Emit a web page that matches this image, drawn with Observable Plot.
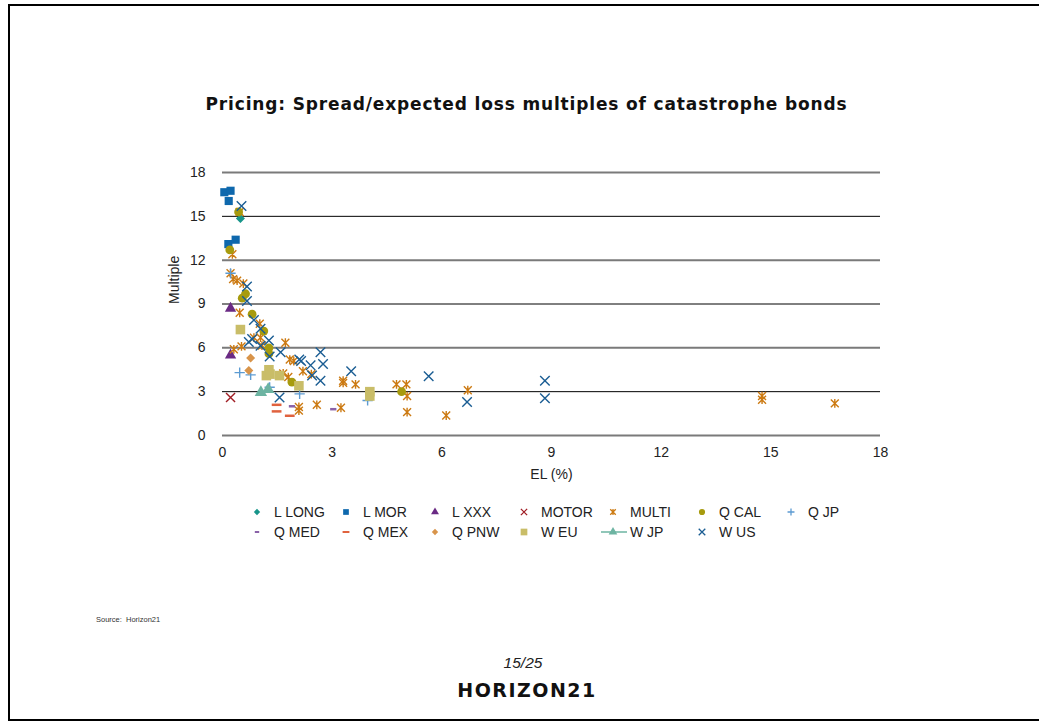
<!DOCTYPE html>
<html>
<head>
<meta charset="utf-8">
<script src="https://cdn.jsdelivr.net/npm/d3@7"></script>
<script src="https://cdn.jsdelivr.net/npm/@observablehq/plot@0.6"></script>
<style>
  html, body { margin: 0; padding: 0; background: #fff; }
  body { width: 1039px; height: 722px; position: relative; overflow: hidden; font-family: "Liberation Sans", Arial, sans-serif; }
  #frame { position: absolute; left: 8px; top: 4px; width: 1036px; height: 717px; border: 2px solid #000; box-sizing: border-box; }
  #title { position: absolute; left: 0; width: 1053px; top: 94px; text-align: center; font-family: "DejaVu Sans", sans-serif; font-weight: bold; font-size: 17px; letter-spacing: 0.85px; color: #111; }
  #chart { position: absolute; left: 0; top: 150px; }
  .leg { position: absolute; font-size: 14px; color: #222; white-space: nowrap; height: 18px; line-height: 18px; }
  .leg svg { position: absolute; top: 0; }
  #source { position: absolute; left: 96px; top: 615px; font-size: 7.5px; color: #333; }
  #page { position: absolute; left: 0; width: 1046px; top: 654px; text-align: center; font-size: 15.5px; font-style: italic; color: #222; }
  #logo { position: absolute; left: 0; width: 1054px; top: 679px; text-align: center; font-family: "DejaVu Sans", sans-serif; font-weight: bold; font-size: 19px; letter-spacing: 1.5px; color: #111; }
</style>
</head>
<body>
<div id="frame"></div>
<div id="title">Pricing: Spread/expected loss multiples of catastrophe bonds</div>
<div id="chart"></div>
<div id="legend"></div>
<div id="source">Source:&nbsp; Horizon21</div>
<div id="page">15/25</div>
<div id="logo">HORIZON21</div>
<script>
// ---- data: [EL (%), Multiple] ----
const lLong = [[0.49, 14.85]];
const lMor = [[0.05, 16.65], [0.22, 16.75], [0.17, 16.05], [0.16, 13.1], [0.36, 13.4]];
const lXxx = [[0.22, 8.7], [0.22, 5.5]];
const motor = [[0.22, 2.6]];
const multi = [[0.47, 15.3], [0.27, 12.4], [0.22, 11.1], [0.29, 10.7], [0.4, 10.6], [0.57, 10.4],
  [0.47, 8.4], [1.02, 7.65], [0.86, 6.7], [1.04, 6.7], [1.08, 6.15], [0.31, 5.9], [0.52, 6.1],
  [1.72, 6.35], [1.84, 5.2], [1.95, 5.1], [2.2, 4.4], [2.43, 4.2], [1.66, 4.25], [1.8, 4.0],
  [3.3, 3.75], [3.3, 3.6], [3.64, 3.5], [2.09, 1.95], [2.09, 1.7], [2.58, 2.1], [3.24, 1.9],
  [4.76, 3.5], [5.03, 3.5], [5.05, 2.7], [5.05, 1.6], [6.12, 1.37], [6.71, 3.1],
  [14.76, 2.7], [14.76, 2.45], [16.75, 2.2]];
const qCal = [[0.44, 15.3], [0.2, 12.7], [0.54, 9.4], [0.63, 9.7], [0.81, 8.3], [1.13, 7.15],
  [1.27, 6.0], [1.27, 5.6], [1.9, 3.65], [4.9, 3.0]];
const qJp = [[0.22, 11.1], [0.47, 4.3], [0.77, 4.15], [1.29, 3.3], [2.11, 2.85], [3.97, 2.4]];
const qMed = [[1.9, 2.0], [3.03, 1.8]];
const qMex = [[1.48, 2.1], [1.48, 1.65], [1.84, 1.35]];
const qPnw = [[0.77, 5.3], [0.72, 4.45]];
const wEu = [[0.49, 7.25], [1.2, 4.1], [1.27, 4.5], [1.3, 4.2], [1.56, 4.1], [2.09, 3.4], [4.03, 3.0], [4.03, 2.7]];
const wJp = [[1.05, 2.95], [1.25, 3.15]];
const wUs = [[0.52, 15.7], [0.67, 10.2], [0.67, 9.2], [0.86, 7.9], [1.04, 7.3], [0.72, 6.4], [0.81, 6.6],
  [1.27, 6.5], [1.04, 6.15], [1.29, 5.4], [1.59, 5.7], [2.1, 5.2], [2.15, 5.1], [2.41, 4.8],
  [2.68, 5.7], [2.75, 4.9], [2.45, 4.1], [2.68, 3.75], [1.56, 2.6], [3.52, 4.4], [5.64, 4.05],
  [6.69, 2.3], [8.82, 3.75], [8.82, 2.55]];

const xTicks = [0, 3, 6, 9, 12, 15, 18];
const yTicks = [0, 3, 6, 9, 12, 15, 18];

// ---- custom symbols ----
const diamondSq = { draw(ctx, size) { const r = Math.sqrt(size / 2); ctx.moveTo(0, -r); ctx.lineTo(r, 0); ctx.lineTo(0, r); ctx.lineTo(-r, 0); ctx.closePath(); } };
const squareSym = { draw(ctx, size) { const s = Math.sqrt(size) / 2; ctx.rect(-s, -s, 2 * s, 2 * s); } };
const dashSym = { draw(ctx, size) { const w = Math.sqrt(size) * 0.55; ctx.moveTo(-w, 0); ctx.lineTo(w, 0); } };
const starSym = { draw(ctx, size) { const r = Math.sqrt(size) * 0.62; const d = r * 0.9;
  ctx.moveTo(0, -r); ctx.lineTo(0, r); ctx.moveTo(-d, -d); ctx.lineTo(d, d); ctx.moveTo(-d, d); ctx.lineTo(d, -d); } };

const series = [
  { name: "L LONG", data: lLong, symbol: diamondSq, color: "#17958a", fill: true, r: 3.6 },
  { name: "L MOR", data: lMor, symbol: squareSym, color: "#0e68ad", fill: true, r: 4.6 },
  { name: "L XXX", data: lXxx, symbol: "triangle", color: "#6a2a84", fill: true, r: 4.2 },
  { name: "MOTOR", data: motor, symbol: "times", color: "#a01d24", fill: false, r: 4.2 },
  { name: "MULTI", data: multi, symbol: starSym, color: "#cc7a12", fill: false, r: 4.0 },
  { name: "Q CAL", data: qCal, symbol: "circle", color: "#a79b0e", fill: true, r: 4.4 },
  { name: "Q JP", data: qJp, symbol: "plus", color: "#5c9bd2", fill: false, r: 3.4 },
  { name: "Q MED", data: qMed, symbol: dashSym, color: "#8a62a8", fill: false, r: 3.2, sw: 2.5 },
  { name: "Q MEX", data: qMex, symbol: dashSym, color: "#e0623e", fill: false, r: 5, sw: 2.5 },
  { name: "Q PNW", data: qPnw, symbol: diamondSq, color: "#d8944a", fill: true, r: 3.6 },
  { name: "W EU", data: wEu, symbol: squareSym, color: "#c9bd68", fill: true, r: 5.4 },
  { name: "W JP", data: wJp, symbol: "triangle", color: "#6db4a2", fill: true, r: 4.6, line: true },
  { name: "W US", data: wUs, symbol: "times", color: "#1a5d93", fill: false, r: 4.4 }
];

const dotMarks = series.map(s => Plot.dot(s.data, {
  x: d => d[0], y: d => d[1], symbol: s.symbol, r: s.r,
  fill: s.fill ? s.color : "none", stroke: s.fill ? "none" : s.color,
  strokeWidth: s.sw || 1.4
}));

const chart = Plot.plot({
  width: 1039, height: 335,
  marginLeft: 222, marginRight: 159, marginTop: 22, marginBottom: 50,
  style: { fontFamily: "Liberation Sans, Arial, sans-serif", fontSize: "14px", color: "#222", background: "transparent" },
  x: { domain: [0, 18] },
  y: { domain: [0, 18] },
  marks: [
    Plot.ruleY([3, 9, 15], { stroke: "#000", strokeWidth: 1 }),
    Plot.ruleY([0, 6, 12, 18], { stroke: "#7a7a7a", strokeWidth: 2 }),
    Plot.axisX({ ticks: xTicks, tickSize: 0, tickPadding: 12, label: null, fontSize: 14 }),
    Plot.axisY({ ticks: yTicks, tickSize: 0, tickPadding: 17, label: null, fontSize: 14 }),
    Plot.text(["EL (%)"], { frameAnchor: "bottom", dy: 43, fontSize: 14, fill: "#222" }),
    Plot.text(["Multiple"], { frameAnchor: "left", dx: -48, rotate: -90, fontSize: 14, fill: "#222" }),
    ...dotMarks
  ]
});
document.getElementById("chart").appendChild(chart);

// ---- legend ----
const legend = document.getElementById("legend");
const colX = [257, 346, 435, 524, 613, 702, 791];
const rowY = [512, 532];
const ns = "http://www.w3.org/2000/svg";
series.forEach((s, i) => {
  const row = i < 7 ? 0 : 1;
  const col = i < 7 ? i : i - 7;
  const cx = colX[col];
  const div = document.createElement("div");
  div.className = "leg";
  div.style.left = (cx - 20) + "px";
  div.style.top = (rowY[row] - 9) + "px";
  const svg = document.createElementNS(ns, "svg");
  svg.setAttribute("width", 40); svg.setAttribute("height", 18);
  svg.style.left = "0px";
  if (s.line) {
    const ln = document.createElementNS(ns, "line");
    ln.setAttribute("x1", 8); ln.setAttribute("x2", 34); ln.setAttribute("y1", 9); ln.setAttribute("y2", 9);
    ln.setAttribute("stroke", s.color); ln.setAttribute("stroke-width", 1.5);
    svg.appendChild(ln);
  }
  const sizeArea = Math.PI * Math.pow(s.r * 0.7, 2);
  const symType = typeof s.symbol === "string"
    ? ({ triangle: d3.symbolTriangle, times: d3.symbolTimes, circle: d3.symbolCircle, plus: d3.symbolPlus })[s.symbol]
    : s.symbol;
  const p = document.createElementNS(ns, "path");
  p.setAttribute("d", d3.symbol(symType, sizeArea)());
  p.setAttribute("transform", "translate(20,9)");
  if (s.fill) { p.setAttribute("fill", s.color); }
  else { p.setAttribute("fill", "none"); p.setAttribute("stroke", s.color); p.setAttribute("stroke-width", s.sw ? 2 : 1.3); }
  svg.appendChild(p);
  div.appendChild(svg);
  const span = document.createElement("span");
  span.textContent = s.name;
  span.style.position = "absolute";
  span.style.left = "37px";
  div.appendChild(span);
  legend.appendChild(div);
});
</script>
</body>
</html>
